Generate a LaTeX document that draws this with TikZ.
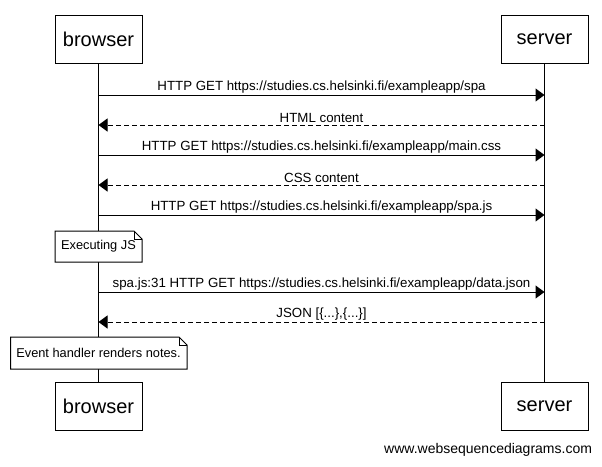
\documentclass[tikz,border=0pt]{standalone}
\usepackage{fontspec}
\setmainfont{Liberation Sans}
\usetikzlibrary{arrows.meta}
\begin{document}
\begin{tikzpicture}[x=1pt,y=-1pt,line width=1pt,
  actor/.style={draw,minimum width=87pt,minimum height=48pt,inner sep=0pt,font=\fontsize{20}{22}\selectfont},
  msg/.style={-{Triangle[length=9pt,width=13pt]}},
  reply/.style={msg,dash pattern=on 5pt off 3pt},
  lbl/.style={font=\fontsize{13.3}{15}\selectfont,anchor=south,inner sep=1pt,fill=none},
  notetext/.style={font=\fontsize{12.8}{14}\selectfont,inner sep=0pt}
]
\useasboundingbox (0,0) rectangle (602,466);
\fill[white] (0,0) rectangle (602,466);

% participants, top and bottom
\node[actor] (bt) at (98.5,39) {browser};
\node[actor] (st) at (544.5,39) {server};
\node[actor] (bb) at (98.5,406.5) {browser};
\node[actor] (sb) at (544.5,406.5) {server};

% lifelines
\draw (bt.south) -- (bb.north);
\draw (st.south) -- (sb.north);

% message end points on the lifelines
\foreach \n/\y in {1/95,2/125,3/155,4/185,5/215,6/292,7/322}{
  \coordinate (b\n) at (98.5,\y);
  \coordinate (s\n) at (544.5,\y);
}

\draw[msg] (b1) -- node[lbl,above=0.5pt] {HTTP GET https://studies.cs.helsinki.fi/exampleapp/spa} (s1);
\draw[reply] (s2) -- node[lbl,above=0.5pt] {HTML content} (b2);
\draw[msg] (b3) -- node[lbl,above=0.5pt] {HTTP GET https://studies.cs.helsinki.fi/exampleapp/main.css} (s3);
\draw[reply] (s4) -- node[lbl,above=0.5pt] {CSS content} (b4);
\draw[msg] (b5) -- node[lbl,above=0.5pt] {HTTP GET https://studies.cs.helsinki.fi/exampleapp/spa.js} (s5);
\draw[msg] (b6) -- node[lbl,above=0.5pt] {spa.js:31 HTTP GET https://studies.cs.helsinki.fi/exampleapp/data.json} (s6);
\draw[reply] (s7) -- node[lbl,above=0.5pt] {JSON [\{...\},\{...\}]} (b7);

% notes with folded corner
\draw[fill=white] (55,231) -- (134,231) -- (142,239) -- (142,262) -- (55,262) -- cycle;
\draw (134,231) -- (134,239) -- (142,239);
\node[notetext] (n1) at (98.5,246.5) {Executing JS};

\draw[fill=white] (10.5,337) -- (179,337) -- (187,345) -- (187,369) -- (10.5,369) -- cycle;
\draw (179,337) -- (179,345) -- (187,345);
\node[notetext] (n2) at (98.5,353) {Event handler renders notes.};

% footer
\node[font=\fontsize{14}{16}\selectfont,anchor=east,inner sep=0pt] (wm) at (592.5,450) {www.websequencediagrams.com};
\end{tikzpicture}
\end{document}
